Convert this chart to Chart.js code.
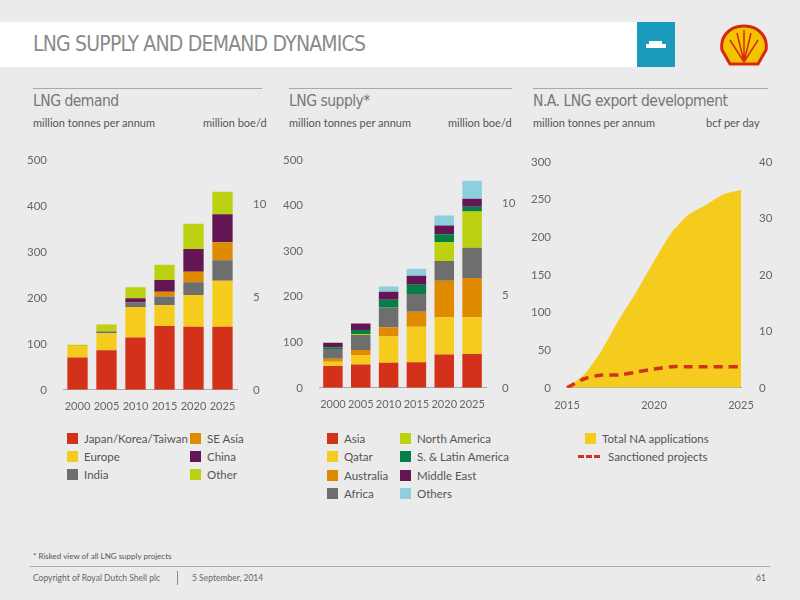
<!DOCTYPE html>
<html>
<head>
<meta charset="utf-8">
<script src="https://cdn.jsdelivr.net/npm/chart.js@4"></script>
<style>
  body { margin: 0; width: 800px; height: 600px; background: #ebebeb; font-family: Lato, "Open Sans", sans-serif; color: #555; position: relative; overflow: hidden; }
  .abs { position: absolute; }
  .hdr { left: 0; top: 22px; width: 637px; height: 45px; background: #fff; }
  .title { left: 33px; top: 32px; font: 21px "DejaVu Sans Condensed", sans-serif; color: #8a8a8a; letter-spacing: -0.8px; }
  .rule { height: 1px; background: #aaa; top: 88px; }
  .sec { top: 92px; font: 15.5px "DejaVu Sans Condensed", sans-serif; color: #777; letter-spacing: -0.5px; }
  .sub { top: 116px; font-size: 11px; color: #555; }
  .leg { font-size: 11.5px; color: #555; }
  .sw { display: inline-block; width: 11px; height: 11px; vertical-align: -1px; margin-right: 6px; }
  canvas { position: absolute; }
</style>
</head>
<body>
<div class="abs hdr"></div>
<div class="abs title">LNG SUPPLY AND DEMAND DYNAMICS</div>
<div class="abs" style="left:637px;top:22px;width:38px;height:45px;background:#1a9bbd;">
  <svg width="38" height="45"><rect x="9" y="22" width="20" height="4" fill="#fff"/><rect x="12" y="19" width="13" height="3" fill="#fff"/></svg>
</div>
<svg class="abs" style="left:718px;top:24px" width="52" height="46">
  <path d="M26 2 C10 2 2 14 4 26 L12 40 L40 40 L48 26 C50 14 42 2 26 2 Z" fill="#f5c400" stroke="#d42a12" stroke-width="3"/>
  <path d="M26 38 L12 16 M26 38 L19 9 M26 38 L26 6 M26 38 L33 9 M26 38 L40 16" stroke="#d42a12" stroke-width="1.5"/>
</svg>

<div class="abs rule" style="left:33px;width:229px"></div>
<div class="abs rule" style="left:289px;width:223px"></div>
<div class="abs rule" style="left:533px;width:235px"></div>
<div class="abs sec" style="left:33px">LNG demand</div>
<div class="abs sec" style="left:289px">LNG supply*</div>
<div class="abs sec" style="left:533px">N.A. LNG export development</div>
<div class="abs sub" style="left:33px">million tonnes per annum</div>
<div class="abs sub" style="left:203px">million boe/d</div>
<div class="abs sub" style="left:289px">million tonnes per annum</div>
<div class="abs sub" style="left:448px">million boe/d</div>
<div class="abs sub" style="left:533px">million tonnes per annum</div>
<div class="abs sub" style="left:706px">bcf per day</div>

<canvas id="demand" style="left:25px;top:145px" width="250" height="270"></canvas>
<canvas id="supply" style="left:281px;top:145px" width="235" height="268"></canvas>
<canvas id="na" style="left:525px;top:145px" width="260" height="270"></canvas>

<div id="legDemand"></div>
<div id="legSupply"></div>
<div id="legNa"></div>

<div class="abs" style="left:33px;top:551px;font-size:8px;color:#555">* Risked view of all LNG supply projects</div>
<div class="abs" style="left:30px;top:566px;width:740px;height:1px;background:#aaa"></div>
<div class="abs" style="left:33px;top:573px;font-size:8.5px;color:#666">Copyright of Royal Dutch Shell plc</div>
<div class="abs" style="left:177px;top:571px;width:1px;height:14px;background:#888"></div>
<div class="abs" style="left:192px;top:573px;font-size:8.5px;color:#666">5 September, 2014</div>
<div class="abs" style="left:756px;top:573px;font-size:8.5px;color:#666">61</div>

<script>
// Data
const years = ['2000', '2005', '2010', '2015', '2020', '2025'];

const demandJapan  = [70, 86, 114, 139, 137, 137];
const demandSEAsia = [0, 0, 0, 10, 23, 39];
const demandEurope = [25, 37, 66, 45, 69, 100];
const demandChina  = [0, 1, 9, 26, 49, 61];
const demandIndia  = [0, 3, 10, 19, 28, 45];
const demandOther  = [3, 15, 24, 33, 55, 49];

const supplyAsia      = [48, 51, 55, 56, 73, 74];
const supplyQatar     = [9, 21, 58, 78, 82, 81];
const supplyAustralia = [7, 11, 20, 33, 80, 86];
const supplyAfrica    = [21, 33, 43, 39, 43, 66];
const supplyNAmerica  = [0, 2, 0, 0, 42, 80];
const supplyLatin     = [4, 9, 17, 20, 17, 10];
const supplyMidEast   = [10, 14, 18, 20, 19, 18];
const supplyOthers    = [0, 0, 11, 15, 22, 39];

const naYears      = ['2015', '2016', '2017', '2018', '2019', '2020', '2021', '2022', '2023', '2024', '2025'];
const naTotal      = [0, 18, 50, 91, 128, 168, 206, 230, 243, 257, 263];
const naSanctioned = [0, 12, 17, 17, 21, 25, 28, 28, 28, 28, 28];

const C = {
    red: '#d4311a', yellow: '#f5cc1d', orange: '#e08a00', purple: '#641654',
    grey: '#6e6e6e', lime: '#bcd10f', green: '#057f47', blue: '#8ecfde'
};

Chart.defaults.font.family = 'Lato, "Open Sans", sans-serif';
Chart.defaults.font.size = 11.5;
Chart.defaults.color = '#666';
Chart.defaults.animation = false;

function barScales(maxLeft, maxRight, stepRight) {
    return {
        x: {
            stacked: true, grid: { display: false }, border: { color: '#aaa' },
            ticks: { padding: 2, autoSkip: false, maxRotation: 0, minRotation: 0, font: { size: 11 } }
        },
        y: {
            stacked: true, min: 0, max: maxLeft, position: 'left',
            grid: { display: false }, border: { display: false },
            ticks: { stepSize: 100, padding: 8 },
            afterFit: s => { s.width = 38; }
        },
        y1: {
            min: 0, max: maxRight, position: 'right',
            grid: { display: false }, border: { display: false },
            ticks: { stepSize: stepRight, padding: 8, callback: v => v % stepRight === 0 ? v : '' },
            afterFit: s => { s.width = 30; }
        }
    };
}

function bar(label, data, color) {
    return { label, data, backgroundColor: color, barPercentage: 0.7, categoryPercentage: 1, yAxisID: 'y' };
}

new Chart(document.getElementById('demand'), {
    type: 'bar',
    data: {
        labels: years,
        datasets: [
            bar('Japan/Korea/Taiwan', demandJapan, C.red),
            bar('Europe', demandEurope, C.yellow),
            bar('India', demandIndia, C.grey),
            bar('SE Asia', demandSEAsia, C.orange),
            bar('China', demandChina, C.purple),
            bar('Other', demandOther, C.lime)
        ]
    },
    options: {
        responsive: false,
        plugins: { legend: { display: false }, tooltip: { enabled: false } },
        layout: { padding: { top: 2, right: 8 } },
        scales: barScales(500, 500 / 40.4, 5)
    }
});

new Chart(document.getElementById('supply'), {
    type: 'bar',
    data: {
        labels: years,
        datasets: [
            bar('Asia', supplyAsia, C.red),
            bar('Qatar', supplyQatar, C.yellow),
            bar('Australia', supplyAustralia, C.orange),
            bar('Africa', supplyAfrica, C.grey),
            bar('North America', supplyNAmerica, C.lime),
            bar('S. & Latin America', supplyLatin, C.green),
            bar('Middle East', supplyMidEast, C.purple),
            bar('Others', supplyOthers, C.blue)
        ]
    },
    options: {
        responsive: false,
        plugins: { legend: { display: false }, tooltip: { enabled: false } },
        layout: { padding: { top: 2 } },
        scales: barScales(500, 500 / 40.4, 5)
    }
});

new Chart(document.getElementById('na'), {
    type: 'line',
    data: {
        labels: naYears,
        datasets: [
            { label: 'Sanctioned projects', data: naSanctioned, borderColor: '#d4311a', borderWidth: 3.5, borderDash: [9, 6], pointRadius: 0, fill: false, tension: 0.3 },
            { label: 'Total NA applications', data: naTotal, borderWidth: 0, backgroundColor: C.yellow, pointRadius: 0, fill: 'origin', tension: 0.2 }
        ]
    },
    options: {
        responsive: false,
        plugins: { legend: { display: false }, tooltip: { enabled: false } },
        layout: { padding: { top: 6, left: 4, right: 8 } },
        scales: {
            x: {
                grid: { display: false }, border: { color: '#aaa' }, offset: false,
                ticks: { autoSkip: false, maxRotation: 0, font: { size: 11 }, callback: (v, i) => i % 5 === 0 ? naYears[i] : '' }
            },
            y: {
                min: 0, max: 300, grid: { display: false }, border: { display: false },
                ticks: { stepSize: 50, padding: 8 }, afterFit: s => { s.width = 38; }
            },
            y1: {
                min: 0, max: 40, position: 'right', grid: { display: false }, border: { display: false },
                ticks: { stepSize: 10, padding: 10 }, afterFit: s => { s.width = 36; }
            }
        }
    }
});

// HTML legends
function legend(id, left, top, colW, rowH, items) {
    const box = document.getElementById(id);
    items.forEach((it, i) => {
        const col = Math.floor(i / it.rows), row = i % it.rows;
        const d = document.createElement('div');
        d.className = 'abs leg';
        d.style.left = (left + col * colW) + 'px';
        d.style.top = (top + row * rowH) + 'px';
        d.innerHTML = it.dash
            ? '<span style="display:inline-block;width:22px;height:0;border-top:3px dashed #d4311a;vertical-align:3px;margin-right:8px"></span>' + it.label
            : '<span class="sw" style="background:' + it.color + '"></span>' + it.label;
        box.appendChild(d);
    });
}
legend('legDemand', 67, 432, 123, 18, [
    { label: 'Japan/Korea/Taiwan', color: C.red, rows: 3 },
    { label: 'Europe', color: C.yellow, rows: 3 },
    { label: 'India', color: C.grey, rows: 3 },
    { label: 'SE Asia', color: C.orange, rows: 3 },
    { label: 'China', color: C.purple, rows: 3 },
    { label: 'Other', color: C.lime, rows: 3 }
]);
legend('legSupply', 327, 432, 73, 18.3, [
    { label: 'Asia', color: C.red, rows: 4 },
    { label: 'Qatar', color: C.yellow, rows: 4 },
    { label: 'Australia', color: C.orange, rows: 4 },
    { label: 'Africa', color: C.grey, rows: 4 },
    { label: 'North America', color: C.lime, rows: 4 },
    { label: 'S. & Latin America', color: C.green, rows: 4 },
    { label: 'Middle East', color: C.purple, rows: 4 },
    { label: 'Others', color: C.blue, rows: 4 }
]);
legend('legNa', 585, 432, 0, 18, [
    { label: 'Total NA applications', color: C.yellow, rows: 1 }
]);
legend('legNa', 578, 450, 0, 18, [
    { label: 'Sanctioned projects', dash: true, rows: 1 }
]);
</script>
</body>
</html>
